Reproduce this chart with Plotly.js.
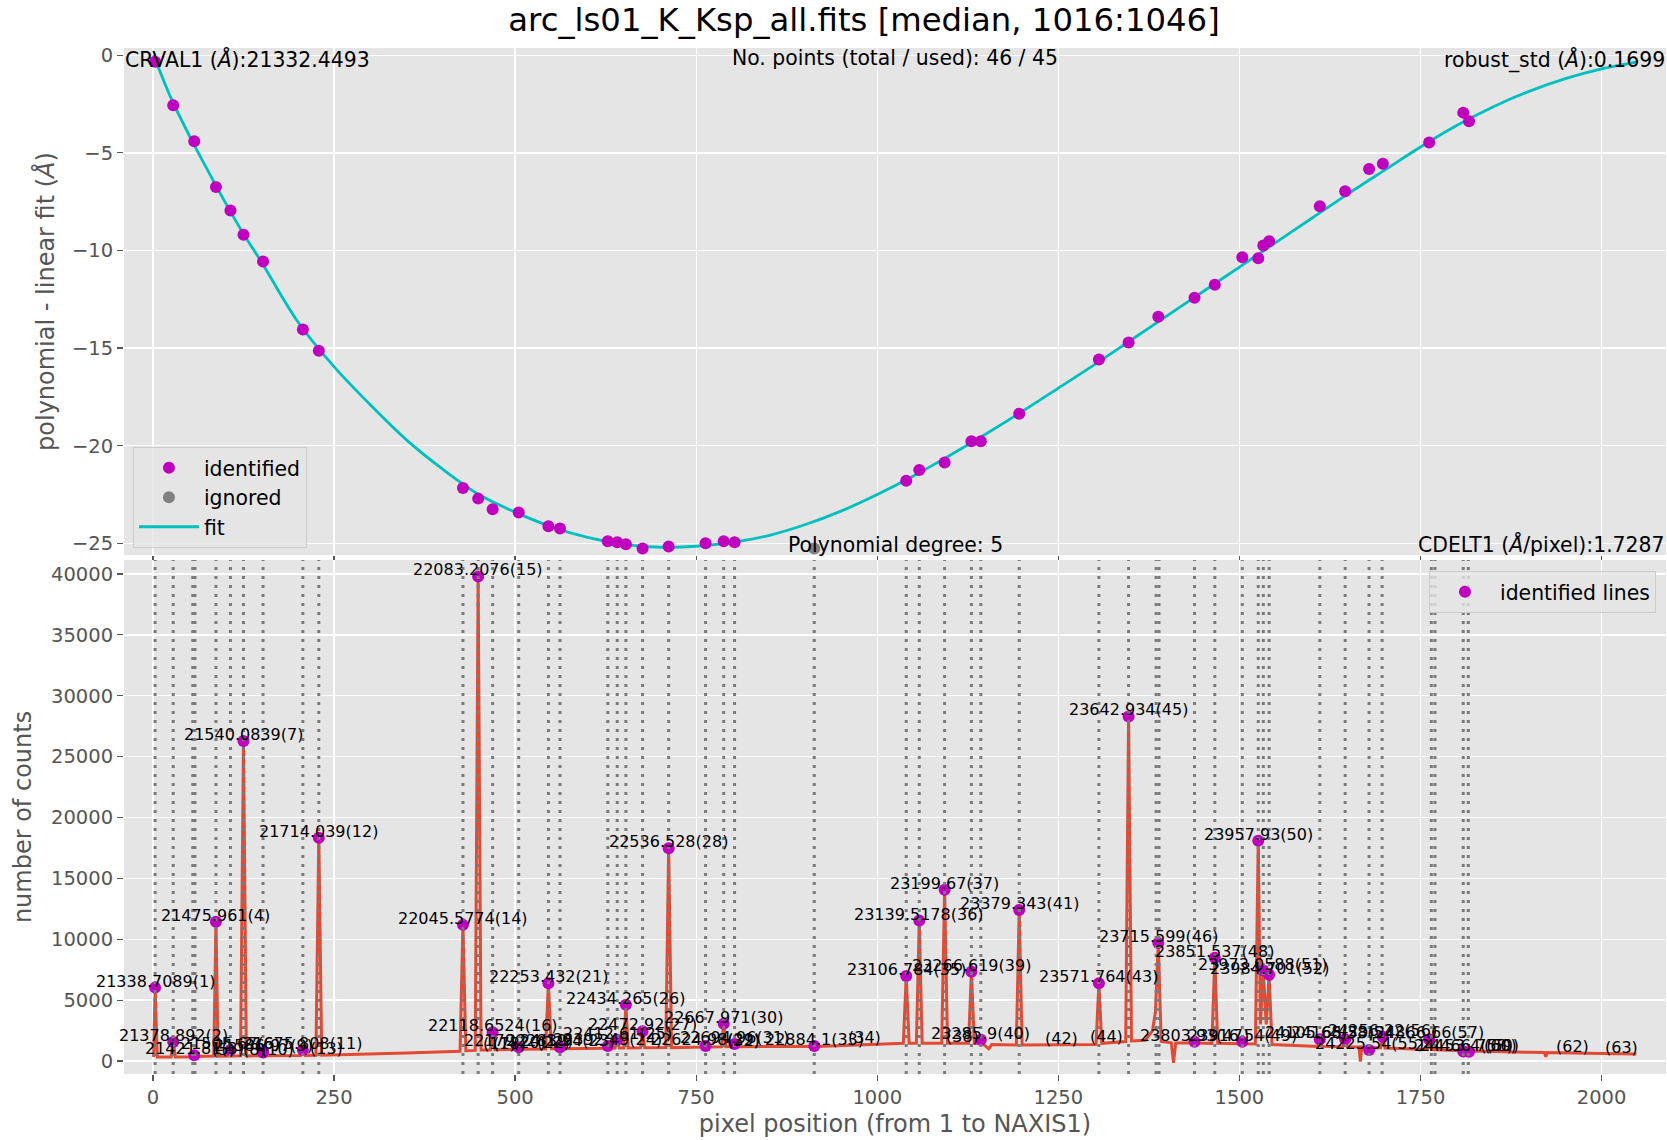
<!DOCTYPE html>
<html>
<head>
<meta charset="utf-8">
<script src="https://cdn.plot.ly/plotly-3.0.1.min.js"></script>
<style>html,body{margin:0;padding:0;background:#fff;}#chart{width:1667px;height:1140px;}</style>
</head>
<body>
<div id="chart"></div>
<script>
// ---------- DATA ----------
// identified (used) lines: pixel, residual (Å), counts, label
const idPix = [3,28,57,87,107,125,152,207,229,
  428,449,469,505,546,562,628,641,653,676,712,763,788,803,
  1040,1058,1093,1130,1143,1196,1306,1347,1388,1438,1466,1504,1526,1533,1541,1611,1646,1679,1698,1762,1809,1817];
const idRes = [-0.33,-2.56,-4.41,-6.75,-7.95,-9.20,-10.57,-14.05,-15.14,
  -22.17,-22.71,-23.26,-23.42,-24.13,-24.24,-24.89,-24.95,-25.05,-25.27,-25.16,-25.0,-24.89,-24.95,
  -21.79,-21.24,-20.86,-19.77,-19.77,-18.36,-15.58,-14.71,-13.40,-12.42,-11.76,-10.35,-10.40,-9.75,-9.53,-7.73,-6.97,-5.83,-5.56,-4.47,-2.94,-3.38];
const idCounts = [6026,1570,470,11441,900,26290,700,900,18340,
  11180,39800,2358,1135,6376,1135,1223,1747,4629,2445,17468,1223,3057,1397,
  6987,11529,14062,7337,1747,12402,6376,28298,9695,1572,8472,1572,18080,7424,7075,1790,1790,910,2000,1790,780,760];
const idLabels = ["21338.7089(1)","21378.892(2)","21421.81(3)","21475.961(4)","21505.67(6)","21540.0839(7)","21586.97(9)","21675.808(11)","21714.039(12)",
  "22045.5774(14)","22083.2076(15)","22118.6524(16)","22179.24(19)","22253.432(21)","22283.94(23)","22392.49(24)","22412.61(25)","22434.265(26)","22472.92(27)","22536.528(28)","22624.98(29)","22667.971(30)","22694.96(31)",
  "23106.784(35)","23139.5178(36)","23199.67(37)","23266.619(39)","23285.9(40)","23379.343(41)","23571.764(43)","23642.934(45)","23715.599(46)","23803.93(47)","23851.537(48)","23916.54(49)","23957.93(50)","23973.0588(51)","23984.701(52)","24105.68(53)","24165.38(54)","24225.54(55)","24256.22(56)","24366.66(57)","24453.4(58)","24466.7(59)"];

// ignored line
const ignPix = [913];
const ignRes = [-25.27];
const ignCounts = [1223];
const ignLabels = ["22884.1(33)"];

// catalogue lines without identification (labels only)
const unidLabels = ["(5)","(8)","(10)","(13)","(17)","(18)","(20)","(22)","(32)","(34)","(38)","(42)","(44)","(60)","(62)","(63)"];
const unidPix = [98,140,172,240,478,492,520,553,815,982,1118,1255,1317,1860,1960,2028];
const unidCounts = [410,430,440,480,930,940,960,1000,1180,1380,1450,1320,1450,760,680,600];

// dotted vertical lines (expected line positions)
const vlinePix = [3,28,55,58,87,107,125,152,207,229,428,449,469,505,546,562,628,641,653,676,712,763,788,803,913,
  1040,1058,1093,1130,1143,1196,1306,1347,1385,1389,1438,1466,1504,1526,1533,1541,1611,1646,1679,1697,1765,1770,1809,1816];

// polynomial fit curve
const fitPix = [1,25,50,75,100,125,150,200,250,300,350,400,450,500,550,600,650,700,750,800,850,900,950,1000,1050,1100,1150,1200,1250,1300,1350,1400,1450,1500,1550,1600,1650,1700,1750,1800,1850,1900,1950,2000,2048];
const fitRes = [0.0,-2.2,-4.1,-5.85,-7.55,-9.15,-10.6,-13.65,-15.95,-17.9,-19.7,-21.2,-22.5,-23.4,-24.15,-24.7,-25.05,-25.2,-25.15,-24.95,-24.6,-24.05,-23.35,-22.5,-21.55,-20.5,-19.4,-18.25,-17.05,-15.85,-14.6,-13.35,-12.1,-10.85,-9.6,-8.35,-7.1,-5.9,-4.7,-3.6,-2.65,-1.85,-1.2,-0.7,-0.35];

// spectrum vertices
const specPix = [1,3,6,25,28,31,54,57,60,84,87,90,104,107,110,121,125,129,149,152,155,204,207,210,225,229,233,300,350,424,428,432,445,449,453,466,469,472,502,505,508,542,546,550,559,562,565,625,628,631,638,641,644,650,653,656,673,676,679,708,712,716,760,763,766,785,788,791,800,803,806,910,913,916,1000,1036,1040,1044,1054,1058,1062,1089,1093,1097,1126,1130,1134,1140,1143,1146,1154,1158,1192,1196,1200,1250,1302,1306,1310,1343,1347,1351,1370,1380,1384,1388,1392,1406,1409,1412,1435,1438,1441,1462,1466,1470,1501,1504,1507,1522,1526,1529,1533,1537,1541,1545,1580,1608,1611,1614,1643,1646,1649,1665,1667,1669,1676,1679,1682,1695,1698,1701,1759,1762,1765,1806,1809,1812,1814,1817,1820,1900,1921,1923,1925,1980,2048];
const specCounts = [330,6026,330,330,1570,330,340,470,380,400,11441,400,410,900,410,420,26290,420,430,700,430,450,900,450,470,18340,480,560,650,800,11180,850,870,39800,900,900,2358,920,950,1135,960,990,6376,1000,1000,1135,1010,1050,1223,1050,1060,1747,1060,1060,4629,1070,1080,2445,1080,1100,17468,1100,1150,1223,1150,1170,3057,1170,1180,1397,1180,1200,1223,1200,1380,1450,6987,1450,1450,11529,1450,1450,14062,1450,1450,7337,1450,1450,1747,1400,1000,1350,1320,12402,1310,1320,1350,6376,1450,1600,28298,1650,1700,2500,4000,9695,1600,1500,-150,1480,1480,1572,1480,1450,8472,1450,1420,1572,1420,1400,18080,3000,7424,3000,7075,1350,1250,1200,1790,1200,1170,1790,1160,1150,-60,1150,1000,910,1080,1080,2000,1060,950,1790,940,850,780,840,820,760,820,720,700,350,700,630,570];

// ---------- PLOT ----------
const FONT = 'DejaVu Sans';
const MAG = '#BF00BF', CYAN = '#00BFBF', RED = '#E24A33';

const traces = [
  {x: fitPix, y: fitRes, type:'scatter', mode:'lines', name:'fit', xaxis:'x', yaxis:'y',
   line:{color:CYAN, width:2.8, shape:'spline', smoothing:1}, legend:'legend', legendrank:3},
  {x: idPix, y: idRes, type:'scatter', mode:'markers', name:'identified', xaxis:'x', yaxis:'y',
   marker:{color:MAG, size:12}, legend:'legend', legendrank:1},
  {x: ignPix, y: ignRes, type:'scatter', mode:'markers', name:'ignored', xaxis:'x', yaxis:'y',
   marker:{color:'#808080', size:12}, legend:'legend', legendrank:2},
  {x: specPix, y: specCounts, type:'scatter', mode:'lines', name:'spectrum', xaxis:'x2', yaxis:'y2',
   line:{color:RED, width:3}, showlegend:false},
  {x: idPix.concat(ignPix), y: idCounts.concat(ignCounts), type:'scatter', mode:'markers', name:'identified lines',
   xaxis:'x2', yaxis:'y2', marker:{color:MAG, size:12}, legend:'legend2'}
];

const shapes = vlinePix.map(p => ({type:'line', xref:'x2', yref:'y2 domain', x0:p, x1:p, y0:0, y1:1,
  line:{color:'#7A7A7A', width:3, dash:'3px,6px'}, layer:'above'}));

const annotations = [];
const lblFont = {family:FONT, size:16, color:'#000'};
const allLabels = idLabels.concat(ignLabels), allPix = idPix.concat(ignPix), allCnt = idCounts.concat(ignCounts);
allLabels.forEach((t,i) => annotations.push({text:t, x:allPix[i], y:allCnt[i], xref:'x2', yref:'y2',
  showarrow:false, xanchor:'center', yanchor:'bottom', font:lblFont, borderpad:0, yshift:-4}));
unidLabels.forEach((t,i) => annotations.push({text:t, x:unidPix[i], y:unidCounts[i], xref:'x2', yref:'y2',
  showarrow:false, xanchor:'center', yanchor:'bottom', font:lblFont, borderpad:0, yshift:-4}));

const txtFont = {family:FONT, size:20.4, color:'#000'};
annotations.push(
  {text:'CRVAL1 (<i>Å</i>):21332.4493', xref:'x domain', yref:'y domain', x:0, y:1, xanchor:'left', yanchor:'top', showarrow:false, font:txtFont, borderpad:0, yshift:3},
  {text:'No. points (total / used): 46 / 45', xref:'x domain', yref:'y domain', x:0.5, y:1, xanchor:'center', yanchor:'top', showarrow:false, font:txtFont, borderpad:0, yshift:3},
  {text:'robust_std (<i>Å</i>):0.1699', xref:'x domain', yref:'y domain', x:1, y:1, xanchor:'right', yanchor:'top', showarrow:false, font:txtFont, borderpad:0, yshift:3},
  {text:'Polynomial degree: 5', xref:'x domain', yref:'y domain', x:0.5, y:0, xanchor:'center', yanchor:'bottom', showarrow:false, font:txtFont, borderpad:0, yshift:-3},
  {text:'CDELT1 (<i>Å</i>/pixel):1.7287', xref:'x domain', yref:'y domain', x:1, y:0, xanchor:'right', yanchor:'bottom', showarrow:false, font:txtFont, borderpad:0, yshift:-3}
);

const tickFont = {family:FONT, size:19.5, color:'#555555'};
const titleFont = {family:FONT, size:24, color:'#555555'};
const axCommon = {showgrid:true, gridcolor:'#FFFFFF', gridwidth:1.3, zeroline:false, showline:false,
  ticks:'outside', ticklen:6, tickwidth:1.2, tickcolor:'#555555', tickfont:tickFont, automargin:false};

const legFont = {family:FONT, size:20.4, color:'#000'};
const layout = {
  width:1667, height:1140,
  paper_bgcolor:'#FFFFFF', plot_bgcolor:'#E5E5E5',
  font:{family:FONT},
  margin:{l:124, r:1, t:48, b:66},
  title:{text:'arc_ls01_K_Ksp_all.fits [median, 1016:1046]', font:{family:FONT, size:32.3, color:'#000'},
         x:864/1667, xanchor:'center', xref:'container', y:1-20/1140, yanchor:'middle', yref:'container'},
  xaxis: Object.assign({}, axCommon, {domain:[0,1], anchor:'y', matches:'x2', showticklabels:false, range:[-39.94, 2088.94], dtick:250, tick0:0}),
  yaxis: Object.assign({}, axCommon, {domain:[0.5058,1], anchor:'x', range:[-25.6, 0.37], dtick:5, tick0:0,
     title:{text:'polynomial - linear fit (<i>Å</i>)', font:titleFont, standoff:10}}),
  xaxis2: Object.assign({}, axCommon, {domain:[0,1], anchor:'y2', range:[-39.94, 2088.94], dtick:250, tick0:0,
     title:{text:'pixel position (from 1 to NAXIS1)', font:titleFont, standoff:6}}),
  yaxis2: Object.assign({}, axCommon, {domain:[0,0.501], anchor:'x2', range:[-1068, 41150], dtick:5000, tick0:0, tickformat:'d',
     title:{text:'number of counts', font:titleFont, standoff:12}}),
  shapes: shapes,
  annotations: annotations,
  legend:{x:0.0058, y:0.5127, xanchor:'left', yanchor:'bottom', bgcolor:'rgba(229,229,229,0.8)', bordercolor:'#CCCCCC', borderwidth:1,
          font:legFont, traceorder:'normal', tracegroupgap:0, itemwidth:60},
  legend2:{x:0.9935, y:0.4903, xanchor:'right', yanchor:'top', bgcolor:'rgba(229,229,229,0.8)', bordercolor:'#CCCCCC', borderwidth:1,
          font:legFont, itemwidth:60},
  showlegend:true
};

Plotly.newPlot('chart', traces, layout, {displayModeBar:false, staticPlot:true});
</script>
</body>
</html>
